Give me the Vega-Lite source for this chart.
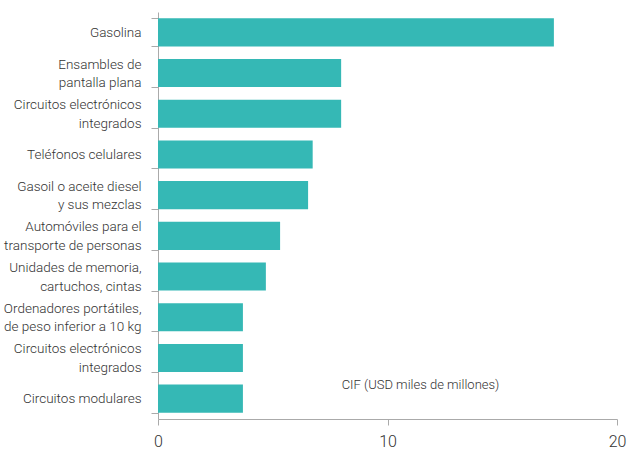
{
  "$schema": "https://vega.github.io/schema/vega-lite/v6.json",
  "width": 459,
  "height": 407,
  "autosize": {"type": "none"},
  "padding": {"left": 158, "top": 12, "right": 10, "bottom": 32},
  "background": "white",
  "data": {
    "values": [
      {"item": "Gasolina", "value": 17.25},
      {"item": "Ensambles de|pantalla plana", "value": 7.98},
      {"item": "Circuitos electrónicos|integrados", "value": 7.98},
      {"item": "Teléfonos celulares", "value": 6.74},
      {"item": "Gasoil o aceite diesel|y sus mezclas", "value": 6.54},
      {"item": "Automóviles para el|transporte de personas", "value": 5.32},
      {"item": "Unidades de memoria,|cartuchos, cintas", "value": 4.7},
      {"item": "Ordenadores portátiles,|de peso inferior a 10 kg", "value": 3.7},
      {"item": "Circuitos electrónicos|integrados#2", "value": 3.7},
      {"item": "Circuitos modulares", "value": 3.7}
    ]
  },
  "mark": {"type": "bar", "color": "#35b8b5"},
  "encoding": {
    "y": {
      "field": "item",
      "type": "nominal",
      "sort": null,
      "scale": {"paddingInner": 0.31, "paddingOuter": 0.155},
      "axis": {
        "title": null,
        "labelExpr": "split(replace(datum.label, '#2', ''), '|')",
        "labelFont": "Roboto",
        "labelFontWeight": 300,
        "labelFontSize": 13.5,
        "labelLineHeight": 18.5,
        "labelColor": "#333333",
        "labelPadding": 10,
        "labelBaseline": {"condition": {"test": "indexof(datum.label, '|') >= 0", "value": "line-bottom"}, "value": "middle"},
        "labelLimit": 200,
        "tickBand": "extent",
        "tickSize": 7,
        "tickColor": "#aaaaaa",
        "domainColor": "#aaaaaa",
        "grid": false
      }
    },
    "x": {
      "field": "value",
      "type": "quantitative",
      "scale": {"domain": [0, 20], "nice": false},
      "axis": {
        "values": [0, 10, 20],
        "title": "CIF (USD miles de millones)",
        "titleFont": "Roboto",
        "titleFontWeight": 300,
        "titleFontSize": 13,
        "titleColor": "#333333",
        "titleX": 262,
        "titleY": -35,
        "titleAlign": "center",
        "titleBaseline": "middle",
        "labelFont": "Roboto",
        "labelFontWeight": 300,
        "labelFontSize": 16,
        "labelColor": "#333333",
        "labelPadding": 8,
        "tickSize": 6,
        "tickColor": "#aaaaaa",
        "domainColor": "#aaaaaa",
        "grid": false,
        "labelFlush": false
      }
    }
  },
  "config": {"view": {"stroke": null}}
}
